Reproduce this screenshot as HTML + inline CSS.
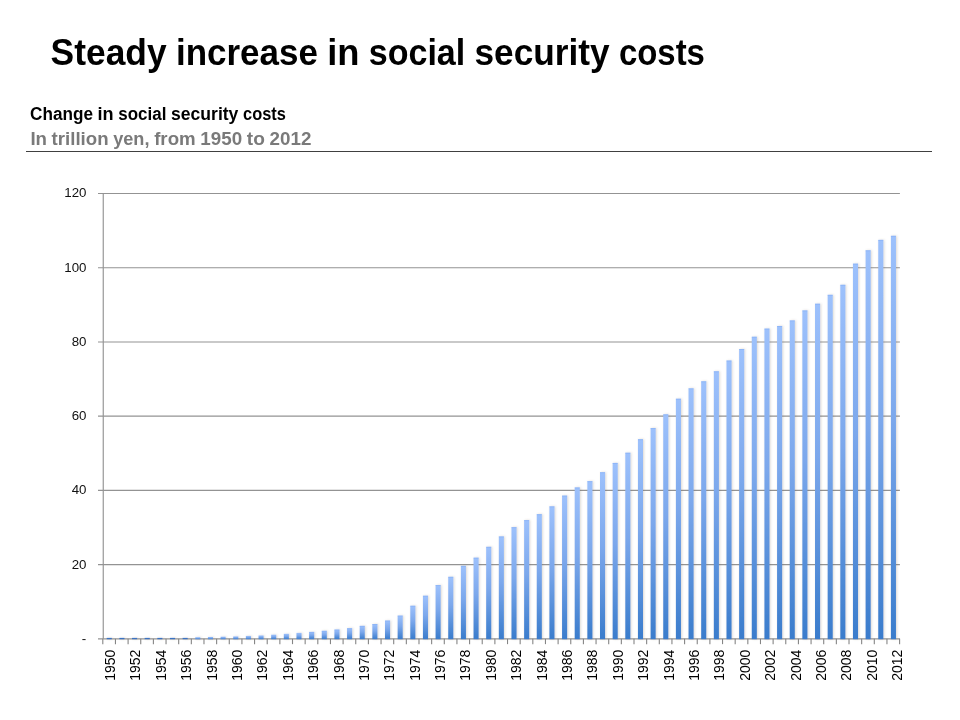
<!DOCTYPE html>
<html lang="en">
<head>
<meta charset="utf-8">
<title>Steady increase in social security costs</title>
<style>
html,body{margin:0;padding:0;background:#fff;}
body{width:960px;height:720px;overflow:hidden;font-family:"Liberation Sans",sans-serif;}
svg{display:block;}
text{font-family:"Liberation Sans",sans-serif;}
.t{font-weight:bold;font-size:36px;fill:#000;}
.s1{font-weight:bold;font-size:18px;fill:#000;}
.s2{font-weight:bold;font-size:18px;fill:#7a7a7a;}
.yl{font-size:13.3px;fill:#111;text-anchor:end;}
.xl{font-size:14px;fill:#000;text-anchor:end;}
</style>
</head>
<body>
<svg width="960" height="720" viewBox="0 0 960 720">
<defs>
<linearGradient id="g" x1="0" y1="0" x2="0" y2="1">
<stop offset="0" stop-color="#9dc1fc"/>
<stop offset="0.45" stop-color="#7ca8ec"/>
<stop offset="1" stop-color="#3a7ccc"/>
</linearGradient>
<filter id="sh" x="-2" y="-0.1" width="5" height="1.2" filterUnits="objectBoundingBox">
<feGaussianBlur in="SourceAlpha" stdDeviation="1.1"/>
<feOffset dx="0.6" dy="0.4" result="b"/>
<feFlood flood-color="#6b5a48" flood-opacity="0.24"/>
<feComposite in2="b" operator="in"/>
<feMerge><feMergeNode/><feMergeNode in="SourceGraphic"/></feMerge>
</filter>
</defs>
<rect width="960" height="720" fill="#fff"/>

<g class="t">
<text x="50.60" y="64.5" textLength="116.02" lengthAdjust="spacingAndGlyphs">Steady</text>
<text x="175.91" y="64.5" textLength="141.98" lengthAdjust="spacingAndGlyphs">increase</text>
<text x="327.20" y="64.5" textLength="32.27" lengthAdjust="spacingAndGlyphs">in</text>
<text x="368.75" y="64.5" textLength="96.47" lengthAdjust="spacingAndGlyphs">social</text>
<text x="474.51" y="64.5" textLength="135.17" lengthAdjust="spacingAndGlyphs">security</text>
<text x="618.97" y="64.5" textLength="85.93" lengthAdjust="spacingAndGlyphs">costs</text>
</g>
<g class="s1">
<text x="30.00" y="120.3" textLength="62.94" lengthAdjust="spacingAndGlyphs">Change</text>
<text x="97.58" y="120.3" textLength="16.08" lengthAdjust="spacingAndGlyphs">in</text>
<text x="118.30" y="120.3" textLength="48.08" lengthAdjust="spacingAndGlyphs">social</text>
<text x="171.02" y="120.3" textLength="67.37" lengthAdjust="spacingAndGlyphs">security</text>
<text x="243.03" y="120.3" textLength="42.85" lengthAdjust="spacingAndGlyphs">costs</text>
</g>
<g class="s2">
<text x="30.40" y="144.9" textLength="16.59" lengthAdjust="spacingAndGlyphs">In</text>
<text x="51.62" y="144.9" textLength="56.93" lengthAdjust="spacingAndGlyphs">trillion</text>
<text x="113.20" y="144.9" textLength="36.33" lengthAdjust="spacingAndGlyphs">yen,</text>
<text x="154.17" y="144.9" textLength="41.50" lengthAdjust="spacingAndGlyphs">from</text>
<text x="200.33" y="144.9" textLength="41.84" lengthAdjust="spacingAndGlyphs">1950</text>
<text x="246.81" y="144.9" textLength="18.05" lengthAdjust="spacingAndGlyphs">to</text>
<text x="269.51" y="144.9" textLength="41.84" lengthAdjust="spacingAndGlyphs">2012</text>
</g>
<rect x="26" y="151" width="906" height="1" fill="#404040"/>
<g stroke="#939393" stroke-width="1.15" fill="none">
<line x1="98" y1="638.85" x2="899.90" y2="638.85"/>
<line x1="98" y1="564.62" x2="899.90" y2="564.62"/>
<line x1="98" y1="490.40" x2="899.90" y2="490.40"/>
<line x1="98" y1="416.18" x2="899.90" y2="416.18"/>
<line x1="98" y1="341.95" x2="899.90" y2="341.95"/>
<line x1="98" y1="267.73" x2="899.90" y2="267.73"/>
<line x1="98" y1="193.50" x2="899.90" y2="193.50"/>
<line x1="103.25" y1="193.50" x2="103.25" y2="638.85"/>
</g>
<g stroke="#858585" stroke-width="1.1" fill="none">
<line x1="102.80" y1="638.85" x2="102.80" y2="644.15"/>
<line x1="115.45" y1="638.85" x2="115.45" y2="644.15"/>
<line x1="128.10" y1="638.85" x2="128.10" y2="644.15"/>
<line x1="140.74" y1="638.85" x2="140.74" y2="644.15"/>
<line x1="153.39" y1="638.85" x2="153.39" y2="644.15"/>
<line x1="166.04" y1="638.85" x2="166.04" y2="644.15"/>
<line x1="178.69" y1="638.85" x2="178.69" y2="644.15"/>
<line x1="191.33" y1="638.85" x2="191.33" y2="644.15"/>
<line x1="203.98" y1="638.85" x2="203.98" y2="644.15"/>
<line x1="216.63" y1="638.85" x2="216.63" y2="644.15"/>
<line x1="229.28" y1="638.85" x2="229.28" y2="644.15"/>
<line x1="241.92" y1="638.85" x2="241.92" y2="644.15"/>
<line x1="254.57" y1="638.85" x2="254.57" y2="644.15"/>
<line x1="267.22" y1="638.85" x2="267.22" y2="644.15"/>
<line x1="279.87" y1="638.85" x2="279.87" y2="644.15"/>
<line x1="292.51" y1="638.85" x2="292.51" y2="644.15"/>
<line x1="305.16" y1="638.85" x2="305.16" y2="644.15"/>
<line x1="317.81" y1="638.85" x2="317.81" y2="644.15"/>
<line x1="330.46" y1="638.85" x2="330.46" y2="644.15"/>
<line x1="343.10" y1="638.85" x2="343.10" y2="644.15"/>
<line x1="355.75" y1="638.85" x2="355.75" y2="644.15"/>
<line x1="368.40" y1="638.85" x2="368.40" y2="644.15"/>
<line x1="381.05" y1="638.85" x2="381.05" y2="644.15"/>
<line x1="393.70" y1="638.85" x2="393.70" y2="644.15"/>
<line x1="406.34" y1="638.85" x2="406.34" y2="644.15"/>
<line x1="418.99" y1="638.85" x2="418.99" y2="644.15"/>
<line x1="431.64" y1="638.85" x2="431.64" y2="644.15"/>
<line x1="444.29" y1="638.85" x2="444.29" y2="644.15"/>
<line x1="456.93" y1="638.85" x2="456.93" y2="644.15"/>
<line x1="469.58" y1="638.85" x2="469.58" y2="644.15"/>
<line x1="482.23" y1="638.85" x2="482.23" y2="644.15"/>
<line x1="494.88" y1="638.85" x2="494.88" y2="644.15"/>
<line x1="507.52" y1="638.85" x2="507.52" y2="644.15"/>
<line x1="520.17" y1="638.85" x2="520.17" y2="644.15"/>
<line x1="532.82" y1="638.85" x2="532.82" y2="644.15"/>
<line x1="545.47" y1="638.85" x2="545.47" y2="644.15"/>
<line x1="558.11" y1="638.85" x2="558.11" y2="644.15"/>
<line x1="570.76" y1="638.85" x2="570.76" y2="644.15"/>
<line x1="583.41" y1="638.85" x2="583.41" y2="644.15"/>
<line x1="596.06" y1="638.85" x2="596.06" y2="644.15"/>
<line x1="608.70" y1="638.85" x2="608.70" y2="644.15"/>
<line x1="621.35" y1="638.85" x2="621.35" y2="644.15"/>
<line x1="634.00" y1="638.85" x2="634.00" y2="644.15"/>
<line x1="646.65" y1="638.85" x2="646.65" y2="644.15"/>
<line x1="659.30" y1="638.85" x2="659.30" y2="644.15"/>
<line x1="671.94" y1="638.85" x2="671.94" y2="644.15"/>
<line x1="684.59" y1="638.85" x2="684.59" y2="644.15"/>
<line x1="697.24" y1="638.85" x2="697.24" y2="644.15"/>
<line x1="709.89" y1="638.85" x2="709.89" y2="644.15"/>
<line x1="722.53" y1="638.85" x2="722.53" y2="644.15"/>
<line x1="735.18" y1="638.85" x2="735.18" y2="644.15"/>
<line x1="747.83" y1="638.85" x2="747.83" y2="644.15"/>
<line x1="760.48" y1="638.85" x2="760.48" y2="644.15"/>
<line x1="773.12" y1="638.85" x2="773.12" y2="644.15"/>
<line x1="785.77" y1="638.85" x2="785.77" y2="644.15"/>
<line x1="798.42" y1="638.85" x2="798.42" y2="644.15"/>
<line x1="811.07" y1="638.85" x2="811.07" y2="644.15"/>
<line x1="823.71" y1="638.85" x2="823.71" y2="644.15"/>
<line x1="836.36" y1="638.85" x2="836.36" y2="644.15"/>
<line x1="849.01" y1="638.85" x2="849.01" y2="644.15"/>
<line x1="861.66" y1="638.85" x2="861.66" y2="644.15"/>
<line x1="874.30" y1="638.85" x2="874.30" y2="644.15"/>
<line x1="886.95" y1="638.85" x2="886.95" y2="644.15"/>
<line x1="899.60" y1="638.85" x2="899.60" y2="644.15"/>
</g>
<g fill="url(#g)" filter="url(#sh)">
<rect x="106.74" y="637.90" width="5.06" height="1.30" fill="#3b73c2"/>
<rect x="119.39" y="637.90" width="5.06" height="1.30" fill="#3b73c2"/>
<rect x="132.04" y="637.90" width="5.06" height="1.30" fill="#3b73c2"/>
<rect x="144.69" y="637.90" width="5.06" height="1.30" fill="#3b73c2"/>
<rect x="157.33" y="637.90" width="5.06" height="1.30" fill="#3b73c2"/>
<rect x="169.98" y="637.90" width="5.06" height="1.30" fill="#3b73c2"/>
<rect x="182.63" y="637.90" width="5.06" height="1.30" fill="#3b73c2"/>
<rect x="195.28" y="637.22" width="5.06" height="1.98"/>
<rect x="207.93" y="636.96" width="5.06" height="2.24"/>
<rect x="220.57" y="636.70" width="5.06" height="2.50"/>
<rect x="233.22" y="636.40" width="5.06" height="2.80"/>
<rect x="245.87" y="635.92" width="5.06" height="3.28"/>
<rect x="258.52" y="635.44" width="5.06" height="3.76"/>
<rect x="271.16" y="634.69" width="5.06" height="4.51"/>
<rect x="283.81" y="633.84" width="5.06" height="5.36"/>
<rect x="296.46" y="632.91" width="5.06" height="6.29"/>
<rect x="309.11" y="631.91" width="5.06" height="7.29"/>
<rect x="321.75" y="630.80" width="5.06" height="8.40"/>
<rect x="334.40" y="629.53" width="5.06" height="9.67"/>
<rect x="347.05" y="628.16" width="5.06" height="11.04"/>
<rect x="359.70" y="625.86" width="5.06" height="13.34"/>
<rect x="372.34" y="624.00" width="5.06" height="15.20"/>
<rect x="384.99" y="620.55" width="5.06" height="18.65"/>
<rect x="397.64" y="615.58" width="5.06" height="23.62"/>
<rect x="410.29" y="605.75" width="5.06" height="33.45"/>
<rect x="422.93" y="595.73" width="5.06" height="43.47"/>
<rect x="435.58" y="585.04" width="5.06" height="54.16"/>
<rect x="448.23" y="576.80" width="5.06" height="62.40"/>
<rect x="460.88" y="565.85" width="5.06" height="73.35"/>
<rect x="473.53" y="557.68" width="5.06" height="81.52"/>
<rect x="486.17" y="546.81" width="5.06" height="92.39"/>
<rect x="498.82" y="536.42" width="5.06" height="102.78"/>
<rect x="511.47" y="527.14" width="5.06" height="112.06"/>
<rect x="524.12" y="520.09" width="5.06" height="119.11"/>
<rect x="536.76" y="514.15" width="5.06" height="125.05"/>
<rect x="549.41" y="506.36" width="5.06" height="132.84"/>
<rect x="562.06" y="495.60" width="5.06" height="143.60"/>
<rect x="574.71" y="487.43" width="5.06" height="151.77"/>
<rect x="587.35" y="481.12" width="5.06" height="158.08"/>
<rect x="600.00" y="472.21" width="5.06" height="166.99"/>
<rect x="612.65" y="462.94" width="5.06" height="176.26"/>
<rect x="625.30" y="452.73" width="5.06" height="186.47"/>
<rect x="637.94" y="439.18" width="5.06" height="200.02"/>
<rect x="650.59" y="428.05" width="5.06" height="211.15"/>
<rect x="663.24" y="414.32" width="5.06" height="224.88"/>
<rect x="675.89" y="398.73" width="5.06" height="240.47"/>
<rect x="688.53" y="388.34" width="5.06" height="250.86"/>
<rect x="701.18" y="381.29" width="5.06" height="257.91"/>
<rect x="713.83" y="371.27" width="5.06" height="267.93"/>
<rect x="726.48" y="360.51" width="5.06" height="278.69"/>
<rect x="739.13" y="349.00" width="5.06" height="290.20"/>
<rect x="751.77" y="336.75" width="5.06" height="302.45"/>
<rect x="764.42" y="328.59" width="5.06" height="310.61"/>
<rect x="777.07" y="325.99" width="5.06" height="313.21"/>
<rect x="789.72" y="320.42" width="5.06" height="318.78"/>
<rect x="802.36" y="310.40" width="5.06" height="328.80"/>
<rect x="815.01" y="303.72" width="5.06" height="335.48"/>
<rect x="827.66" y="294.82" width="5.06" height="344.38"/>
<rect x="840.31" y="284.80" width="5.06" height="354.40"/>
<rect x="852.95" y="263.64" width="5.06" height="375.56"/>
<rect x="865.60" y="250.28" width="5.06" height="388.92"/>
<rect x="878.25" y="239.89" width="5.06" height="399.31"/>
<rect x="890.90" y="235.81" width="5.06" height="403.39"/>
</g>
<g fill="#7ea9f2" fill-opacity="0.45">
<rect x="309.11" y="631.91" width="5.06" height="1"/>
<rect x="321.75" y="630.80" width="5.06" height="1"/>
<rect x="334.40" y="629.53" width="5.06" height="1"/>
<rect x="347.05" y="628.16" width="5.06" height="1"/>
<rect x="359.70" y="625.86" width="5.06" height="1"/>
<rect x="372.34" y="624.00" width="5.06" height="1"/>
<rect x="384.99" y="620.55" width="5.06" height="1"/>
<rect x="397.64" y="615.58" width="5.06" height="1"/>
<rect x="410.29" y="605.75" width="5.06" height="1"/>
<rect x="422.93" y="595.73" width="5.06" height="1"/>
<rect x="435.58" y="585.04" width="5.06" height="1"/>
<rect x="448.23" y="576.80" width="5.06" height="1"/>
<rect x="460.88" y="565.85" width="5.06" height="1"/>
<rect x="473.53" y="557.68" width="5.06" height="1"/>
<rect x="486.17" y="546.81" width="5.06" height="1"/>
<rect x="498.82" y="536.42" width="5.06" height="1"/>
<rect x="511.47" y="527.14" width="5.06" height="1"/>
<rect x="524.12" y="520.09" width="5.06" height="1"/>
<rect x="536.76" y="514.15" width="5.06" height="1"/>
<rect x="549.41" y="506.36" width="5.06" height="1"/>
<rect x="562.06" y="495.60" width="5.06" height="1"/>
<rect x="574.71" y="487.43" width="5.06" height="1"/>
<rect x="587.35" y="481.12" width="5.06" height="1"/>
<rect x="600.00" y="472.21" width="5.06" height="1"/>
<rect x="612.65" y="462.94" width="5.06" height="1"/>
<rect x="625.30" y="452.73" width="5.06" height="1"/>
<rect x="637.94" y="439.18" width="5.06" height="1"/>
<rect x="650.59" y="428.05" width="5.06" height="1"/>
<rect x="663.24" y="414.32" width="5.06" height="1"/>
<rect x="675.89" y="398.73" width="5.06" height="1"/>
<rect x="688.53" y="388.34" width="5.06" height="1"/>
<rect x="701.18" y="381.29" width="5.06" height="1"/>
<rect x="713.83" y="371.27" width="5.06" height="1"/>
<rect x="726.48" y="360.51" width="5.06" height="1"/>
<rect x="739.13" y="349.00" width="5.06" height="1"/>
<rect x="751.77" y="336.75" width="5.06" height="1"/>
<rect x="764.42" y="328.59" width="5.06" height="1"/>
<rect x="777.07" y="325.99" width="5.06" height="1"/>
<rect x="789.72" y="320.42" width="5.06" height="1"/>
<rect x="802.36" y="310.40" width="5.06" height="1"/>
<rect x="815.01" y="303.72" width="5.06" height="1"/>
<rect x="827.66" y="294.82" width="5.06" height="1"/>
<rect x="840.31" y="284.80" width="5.06" height="1"/>
<rect x="852.95" y="263.64" width="5.06" height="1"/>
<rect x="865.60" y="250.28" width="5.06" height="1"/>
<rect x="878.25" y="239.89" width="5.06" height="1"/>
<rect x="890.90" y="235.81" width="5.06" height="1"/>
</g>
<g class="yl">
<text x="86.5" y="568.52">20</text>
<text x="86.5" y="494.30">40</text>
<text x="86.5" y="420.07">60</text>
<text x="86.5" y="345.85">80</text>
<text x="86.5" y="271.62">100</text>
<text x="86.5" y="197.40">120</text>
<text x="86.2" y="643.45">-</text>
</g>
<g class="xl">
<text transform="translate(115.00 649.7) rotate(-90)">1950</text>
<text transform="translate(140.39 649.7) rotate(-90)">1952</text>
<text transform="translate(165.78 649.7) rotate(-90)">1954</text>
<text transform="translate(191.17 649.7) rotate(-90)">1956</text>
<text transform="translate(216.56 649.7) rotate(-90)">1958</text>
<text transform="translate(241.95 649.7) rotate(-90)">1960</text>
<text transform="translate(267.34 649.7) rotate(-90)">1962</text>
<text transform="translate(292.73 649.7) rotate(-90)">1964</text>
<text transform="translate(318.12 649.7) rotate(-90)">1966</text>
<text transform="translate(343.51 649.7) rotate(-90)">1968</text>
<text transform="translate(368.90 649.7) rotate(-90)">1970</text>
<text transform="translate(394.29 649.7) rotate(-90)">1972</text>
<text transform="translate(419.68 649.7) rotate(-90)">1974</text>
<text transform="translate(445.07 649.7) rotate(-90)">1976</text>
<text transform="translate(470.46 649.7) rotate(-90)">1978</text>
<text transform="translate(495.85 649.7) rotate(-90)">1980</text>
<text transform="translate(521.24 649.7) rotate(-90)">1982</text>
<text transform="translate(546.63 649.7) rotate(-90)">1984</text>
<text transform="translate(572.02 649.7) rotate(-90)">1986</text>
<text transform="translate(597.41 649.7) rotate(-90)">1988</text>
<text transform="translate(622.80 649.7) rotate(-90)">1990</text>
<text transform="translate(648.19 649.7) rotate(-90)">1992</text>
<text transform="translate(673.58 649.7) rotate(-90)">1994</text>
<text transform="translate(698.97 649.7) rotate(-90)">1996</text>
<text transform="translate(724.36 649.7) rotate(-90)">1998</text>
<text transform="translate(749.75 649.7) rotate(-90)">2000</text>
<text transform="translate(775.14 649.7) rotate(-90)">2002</text>
<text transform="translate(800.53 649.7) rotate(-90)">2004</text>
<text transform="translate(825.92 649.7) rotate(-90)">2006</text>
<text transform="translate(851.31 649.7) rotate(-90)">2008</text>
<text transform="translate(876.70 649.7) rotate(-90)">2010</text>
<text transform="translate(902.09 649.7) rotate(-90)">2012</text>
</g>
</svg>
</body>
</html>
